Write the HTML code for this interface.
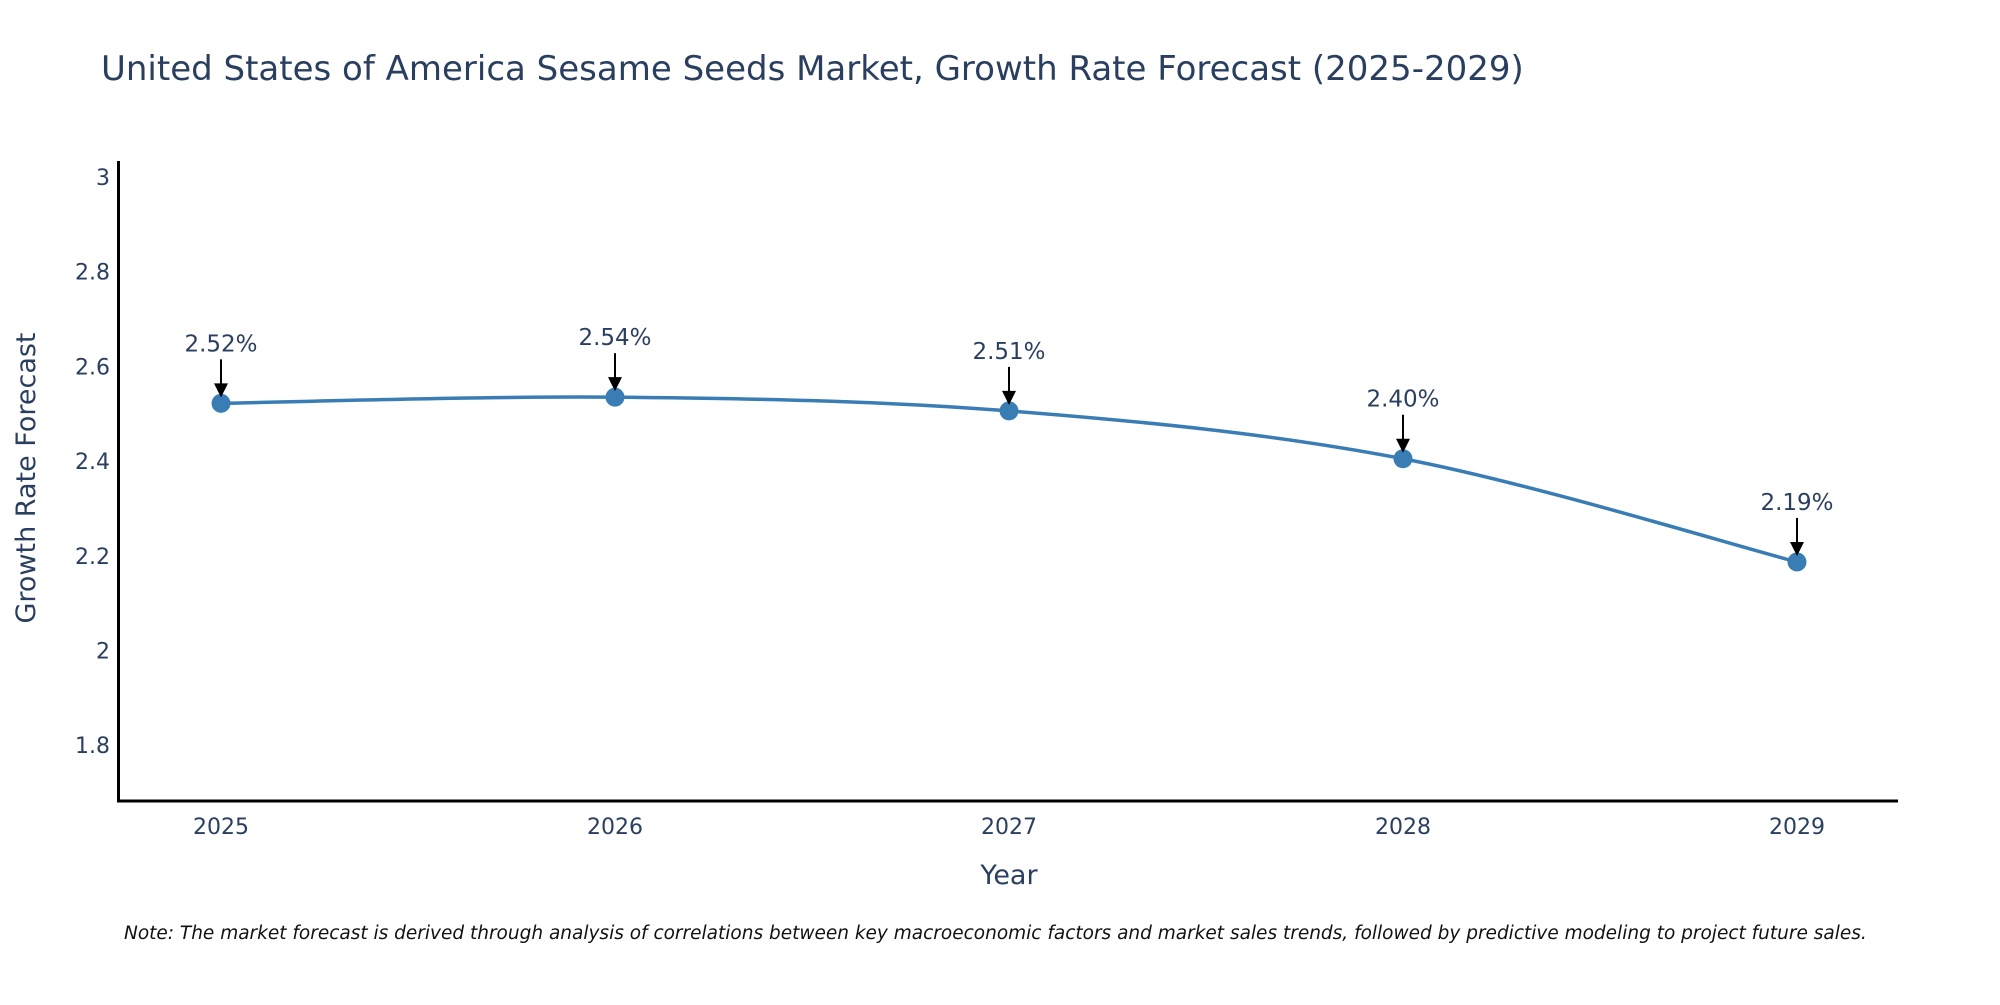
<!DOCTYPE html>
<html><head><meta charset="utf-8"><style>
body{margin:0;background:#fff;}
svg text{font-family:"DejaVu Sans","Liberation Sans",sans-serif;fill:#2a3f5f;}
</style></head><body>
<svg id="chart" width="2000" height="1000" xmlns="http://www.w3.org/2000/svg">
<rect width="2000" height="1000" fill="#fff"/>
<text x="101" y="80" font-size="34">United States of America Sesame Seeds Market, Growth Rate Forecast (2025-2029)</text>
<g id="yticks"></g>
<g id="xticks"></g>
<line x1="118.5" y1="161" x2="118.5" y2="802" stroke="#000" stroke-width="3"/>
<line x1="117" y1="801" x2="1898" y2="801" stroke="#000" stroke-width="3"/>
<path id="line" fill="none" stroke="#3a7db5" stroke-width="3.5"/>
<g id="marks"></g>
<g id="annos"></g>
<text x="1009" y="884" font-size="27" text-anchor="middle">Year</text>
<text transform="translate(35,478) rotate(-90)" font-size="27" text-anchor="middle">Growth Rate Forecast</text>
<text x="124" y="939" font-size="18.5" font-style="italic" style="fill:#111">Note: The market forecast is derived through analysis of correlations between key macroeconomic factors and market sales trends, followed by predictive modeling to project future sales.</text>
</svg>
<script>
const years=["2025","2026","2027","2028","2029"];
const values=[2.522,2.535,2.506,2.405,2.187];
const labels=["2.52%","2.54%","2.51%","2.40%","2.19%"];
const yTicks=[1.8,2,2.2,2.4,2.6,2.8,3];
const yTickLabels=["1.8","2","2.2","2.4","2.6","2.8","3"];
const NS="http://www.w3.org/2000/svg";
function x(i){return 221+i*(1797-221)/(years.length-1);}
function y(v){return 177+(3-v)/0.2*94.7;}
function mk(t,a,p){const e=document.createElementNS(NS,t);for(const k in a)e.setAttribute(k,a[k]);p.appendChild(e);return e;}
const yt=document.getElementById('yticks');
yTicks.forEach((v,i)=>{const t=mk('text',{x:110,y:y(v)+8,'font-size':22,'text-anchor':'end'},yt);t.textContent=yTickLabels[i];

});
const xt=document.getElementById('xticks');
years.forEach((yr,i)=>{const t=mk('text',{x:x(i),y:834,'font-size':22,'text-anchor':'middle'},xt);t.textContent=yr;

});
const P=values.map((v,i)=>[x(i),y(v)]);
let d="M"+P[0][0]+","+P[0][1];
for(let i=0;i<P.length-1;i++){const p0=P[i-1]||P[i],p1=P[i],p2=P[i+1],p3=P[i+2]||P[i+1];const s=6;
d+=" C"+(p1[0]+(p2[0]-p0[0])/s)+","+(p1[1]+(p2[1]-p0[1])/s)+" "+(p2[0]-(p3[0]-p1[0])/s)+","+(p2[1]-(p3[1]-p1[1])/s)+" "+p2[0]+","+p2[1];}
document.getElementById('line').setAttribute('d',d);
const mg=document.getElementById('marks'),ag=document.getElementById('annos');
P.forEach((p,i)=>{const c=mk('circle',{cx:p[0],cy:p[1],r:9.5,fill:'#3a7db5'},mg);


const l=mk('line',{x1:p[0],y1:p[1]-44,x2:p[0],y2:p[1]-18,stroke:'#000','stroke-width':2},ag);


const h=mk('polygon',{points:(p[0]-7)+","+(p[1]-20)+" "+(p[0]+7)+","+(p[1]-20)+" "+p[0]+","+(p[1]-6),fill:'#000'},ag);


const t=mk('text',{x:p[0],y:p[1]-52,'font-size':23,'text-anchor':'middle'},ag);t.textContent=labels[i];

});
</script>
</body></html>
